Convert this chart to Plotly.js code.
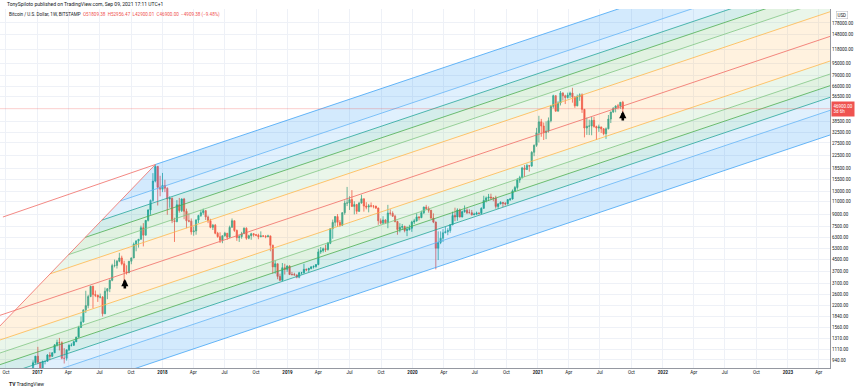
<!DOCTYPE html>
<html><head><meta charset="utf-8">
<script src="https://cdn.plot.ly/plotly-3.0.1.min.js"></script>
<style>html,body{margin:0;padding:0;background:#fff;}#chart{width:860px;height:391px;}</style>
</head><body><div id="chart"></div>
<script>
// ---- weekly BTCUSD (Bitstamp) candles, first week starting 2016-11-28 ----
const firstWeek = '2016-11-28';
const opens = [730,766,778,790,900,998,906,821,920,920,1015,995,1050,1190,1232,1230,965,965,1100,1180,1182,1250,1340,1560,1700,2050,2190,2520,2960,2600,2570,2500,2505,1930,2740,2850,3250,4080,4090,4370,4600,4200,3700,3650,4370,4600,5700,6000,6150,7350,6550,8250,9700,11250,15200,19100,13800,
13400,14200,13600,11500,11600,8200,8100,10500,9600,11500,9500,8200,8150,6900,7000,8300,8900,9300,9600,8700,8200,7400,7650,6750,6400,6050,6500,6750,6350,7400,8200,7050,6300,6400,6700,7300,6250,6500,6700,6600,6550,6400,6480,6450,6400,6480,5600,4000,4200,3450,3250,3950,3850,
4050,3550,3550,3530,3400,3650,3650,3850,3820,3900,4000,4020,4150,5050,5150,5300,5250,5780,7250,8000,8750,8000,7650,9300,10800,10800,11400,10250,10550,9500,10800,11550,10300,10150,10350,10300,10300,10000,8200,7900,8300,7950,9250,9200,8800,8100,7150,7400,7500,7050,7150,7300,
8050,8180,8700,8600,9300,10150,9900,9650,8550,8030,5350,5850,6250,6800,6900,7050,7700,8900,8700,9700,8700,9450,9650,9300,9300,9000,9080,9250,9200,9950,11250,11700,11850,11700,11650,10250,10650,10900,10750,10670,11400,11500,13050,13750,15450,16050,18650,18200,19350,19200,23800,26500,
32200,38200,35800,32300,33100,38900,48600,57400,45100,51200,59900,57300,55800,57900,59800,56200,49000,56600,58200,46400,34700,35700,35800,39100,35500,34700,35300,34250,31800,34300,39900,44600,47000,48900,48800,51809.38];
const highs = [772,778,795,935,1000,1153,910,930,925,1030,1062,1060,1200,1290,1325,1255,1130,1100,1200,1220,1270,1350,1600,1850,2050,2760,2590,2980,2980,2770,2600,2640,2540,2900,2800,3290,4200,4480,4450,4980,4760,4400,4100,4380,4620,5850,6000,6150,7600,7900,8250,9790,11400,17200,19666,19200,16500,
17250,15500,13800,12000,11800,8600,11300,11700,11600,11700,9900,9200,8500,7500,8400,9000,9700,9900,9600,8900,8450,7800,7800,6900,6850,6500,6900,6780,7600,8500,8200,7150,6600,6900,7400,7400,6600,6800,6750,6650,6700,6950,6550,6550,6600,6500,5650,4400,4200,3600,4250,4200,4100,
4100,3700,3650,3550,3700,3700,4200,3900,3950,4050,4100,4150,5300,5450,5400,5650,5900,7300,8350,8800,9100,8300,9350,11250,13880,12000,13200,11100,10650,11000,12300,11550,10950,10650,10900,10450,10350,10050,8500,8800,8400,10500,9800,9500,9000,8200,7900,7800,7600,7500,7700,8200,
8450,9200,8800,9600,10200,10500,10250,9700,9200,8100,6950,6950,7200,7450,7300,7750,9450,10050,9950,9900,9600,10400,9950,9800,9700,9300,9450,9300,10100,12100,11950,12450,12500,11800,12100,10800,11100,10980,10950,11500,11700,13350,14100,15950,16500,18950,19500,19900,19400,24200,26900,34800,
41950,40000,37800,38500,40900,49700,58300,57500,52600,61700,60500,58300,60200,61100,64900,57000,58400,59500,59500,46600,40800,39500,41300,41300,36000,36600,35400,34700,35000,42500,44700,48100,49300,50500,51900,52956.47];
const lows = [725,752,768,790,888,880,752,815,878,915,935,985,1050,1160,1090,950,890,930,1080,1160,1170,1240,1340,1550,1680,1950,2100,2500,2100,2500,2320,2450,1850,1920,2420,2700,3200,3970,3900,4300,4100,2970,3550,3650,4170,4580,5100,5400,6100,5500,6550,8100,9000,11000,14900,10400,12000,
12800,12800,9000,10050,7900,5900,8000,9300,9400,8400,7300,8000,6600,6500,6600,7900,8700,9000,8300,7900,7300,7100,6650,6300,5800,5780,6400,6100,6300,7400,6900,6000,5900,6200,6700,6100,6150,6100,6400,6450,6150,6350,6380,6250,6350,5100,3600,3600,3300,3200,3200,3550,3700,
3550,3500,3500,3350,3350,3550,3600,3750,3700,3850,3900,3950,4100,4900,5000,5050,5150,5700,6200,7500,7450,7450,7550,9000,10300,9700,10400,9050,9100,9400,10700,9450,9800,9350,10100,9950,9850,7700,7750,7800,7850,7300,8900,8700,8000,6600,6850,7100,6850,6450,7050,6900,
7800,8100,8250,8550,9100,9700,9300,8450,7900,3850,4450,5700,5900,6750,6550,6800,7650,8150,8200,8650,8650,9300,9100,9200,8900,8950,9050,9050,9150,9900,10900,11150,11300,11100,9900,9850,10600,10150,10400,10550,11150,11400,12950,13300,14800,15800,16200,18100,17600,19000,22400,25900,
27700,30300,28800,29200,32300,37900,47100,44900,45000,49300,53200,50400,54900,55400,51500,47500,48700,53000,43900,30000,31200,31100,31000,34900,28800,32700,32100,31000,29300,34000,37500,43800,44300,46400,46700,42900.01];
const closes = [766,778,790,900,998,906,821,920,920,1015,995,1050,1190,1232,1230,965,965,1100,1180,1182,1250,1340,1560,1700,2050,2190,2520,2960,2600,2570,2500,2505,1930,2740,2850,3250,4080,4090,4370,4600,4200,3700,3650,4370,4600,5700,6000,6150,7350,6550,8250,9700,11250,15200,19100,13800,13400,
14200,13600,11500,11600,8200,8100,10500,9600,11500,9500,8200,8150,6900,7000,8300,8900,9300,9600,8700,8200,7400,7650,6750,6400,6050,6500,6750,6350,7400,8200,7050,6300,6400,6700,7300,6250,6500,6700,6600,6550,6400,6480,6450,6400,6480,5600,4000,4200,3450,3250,3950,3850,4050,
3550,3550,3530,3400,3650,3650,3850,3820,3900,4000,4020,4150,5050,5150,5300,5250,5780,7250,8000,8750,8000,7650,9300,10800,10800,11400,10250,10550,9500,10800,11550,10300,10150,10350,10300,10300,10000,8200,7900,8300,7950,9250,9200,8800,8100,7150,7400,7500,7050,7150,7300,8050,
8180,8700,8600,9300,10150,9900,9650,8550,8030,5350,5850,6250,6800,6900,7050,7700,8900,8700,9700,8700,9450,9650,9300,9300,9000,9080,9250,9200,9950,11250,11700,11850,11700,11650,10250,10650,10900,10750,10670,11400,11500,13050,13750,15450,16050,18650,18200,19350,19200,23800,26500,32200,
38200,35800,32300,33100,38900,48600,57400,45100,51200,59900,57300,55800,57900,59800,56200,49000,56600,58200,46400,34700,35700,35800,39100,35500,34700,35300,34250,31800,34300,39900,44600,47000,48900,48800,51800,46900];

// ---- pitchfork anchors (handle P1, P2, P3) and its levels ----
const forkDates = ['2014-04-14', '2017-12-11', '2015-09-14'];
const forkPrices = [387, 19666, 211];
const forkLevels = [0.25, 0.382, 0.5, 0.618, 0.75, 1];
const forkLineColors = ['#ffb74d', '#81c784', '#4caf50', '#26a69a', '#64b5f6', '#42a5f5'];
const forkFillColors = ['rgba(255,167,38,0.15)', 'rgba(129,199,132,0.17)', 'rgba(76,175,80,0.17)', 'rgba(0,150,136,0.17)', 'rgba(100,181,246,0.2)', 'rgba(33,150,243,0.2)'];
const medianColor = '#f06b64';
// extra trend line ending at P2
const trendDates = ['2016-09-22', '2017-12-11'];
const trendPrices = [8690, 19666];
const lastPrice = 46900;
const arrowDates = ['2017-09-13', '2021-09-06'];
const arrowPrices = [3313, 45200];

// ---- axis ticks ----
const xTickVals = ['2016-10-01','2017-01-01','2017-04-01','2017-07-01','2017-10-01','2018-01-01','2018-04-01','2018-07-01','2018-10-01','2019-01-01','2019-04-01','2019-07-01','2019-10-01','2020-01-01','2020-04-01','2020-07-01','2020-10-01','2021-01-01','2021-04-01','2021-07-01','2021-10-01','2022-01-01','2022-04-01','2022-07-01','2022-10-01','2023-01-01','2023-04-01'];
const xTickText = ['Oct','<b>2017</b>','Apr','Jul','Oct','<b>2018</b>','Apr','Jul','Oct','<b>2019</b>','Apr','Jul','Oct','<b>2020</b>','Apr','Jul','Oct','<b>2021</b>','Apr','Jul','Oct','<b>2022</b>','Apr','Jul','Oct','<b>2023</b>','Apr'];
const yTickVals = [178000,148000,118000,95000,79000,66000,56500,38500,32500,27500,22500,18500,15500,13000,11000,9000,7500,6300,5300,4500,3700,3100,2600,2200,1840,1560,1310,1110,940];
const yTickText = yTickVals.map(v => v.toFixed(2));

// ---- helpers ----
const DAY = 86400000;
const toU = s => Date.parse(s.length > 10 ? s : s + 'T00:00:00Z') / DAY;
const toD = u => new Date(u * DAY).toISOString().slice(0, 19).replace('T', ' ');
const t0 = Date.parse(firstWeek + 'T00:00:00Z');
const dates = opens.map((_, i) => new Date(t0 + i * 7 * DAY).toISOString().slice(0, 10));

const P = forkDates.map((d, i) => [toU(d), Math.log10(forkPrices[i])]);
const M = [(P[1][0] + P[2][0]) / 2, (P[1][1] + P[2][1]) / 2];
const slope = (M[1] - P[0][1]) / (M[0] - P[0][0]);
const uEnd = toU('2024-06-01');
const endOf = s => [uEnd, s[1] + slope * (uEnd - s[0])];
const lvlPt = (k, Q) => [M[0] + k * (Q[0] - M[0]), M[1] + k * (Q[1] - M[1])];
const pts = arr => ({ x: arr.map(p => toD(p[0])), y: arr.map(p => Math.pow(10, p[1])) });

const traces = [];
// fills
[P[1], P[2]].forEach(Q => {
  let prev = M;
  forkLevels.forEach((k, i) => {
    const s = lvlPt(k, Q);
    const poly = pts([prev, s, endOf(s), endOf(prev), prev]);
    traces.push({ type: 'scatter', mode: 'lines', x: poly.x, y: poly.y, fill: 'toself', fillcolor: forkFillColors[i], line: { width: 0 }, hoverinfo: 'skip' });
    prev = s;
  });
});
// level lines
[P[1], P[2]].forEach(Q => {
  forkLevels.forEach((k, i) => {
    const s = lvlPt(k, Q);
    const l = pts([s, endOf(s)]);
    traces.push({ type: 'scatter', mode: 'lines', x: l.x, y: l.y, line: { width: 0.8, color: forkLineColors[i] }, hoverinfo: 'skip' });
  });
});
// median / handle, base line, trend line
const med = pts([P[0], endOf(M)]);
traces.push({ type: 'scatter', mode: 'lines', x: med.x, y: med.y, line: { width: 0.8, color: medianColor }, hoverinfo: 'skip' });
const base = pts([P[1], P[2]]);
traces.push({ type: 'scatter', mode: 'lines', x: base.x, y: base.y, line: { width: 0.8, color: medianColor }, hoverinfo: 'skip' });
traces.push({ type: 'scatter', mode: 'lines', x: trendDates, y: trendPrices, line: { width: 0.8, color: medianColor }, hoverinfo: 'skip' });
// last price line
traces.push({ type: 'scatter', mode: 'lines', x: ['2016-01-01', '2024-06-01'], y: [lastPrice, lastPrice], line: { width: 1, color: 'rgba(239,83,80,0.28)' }, hoverinfo: 'skip' });
// candles
traces.push({
  type: 'candlestick', x: dates, open: opens, high: highs, low: lows, close: closes,
  increasing: { line: { color: '#26a69a', width: 0.8 }, fillcolor: '#26a69a' },
  decreasing: { line: { color: '#ef5350', width: 0.8 }, fillcolor: '#ef5350' },
  whiskerwidth: 0, hoverinfo: 'skip'
});

const W = 830, TOP = 9, BOT = 368, H = BOT - TOP;
const px = x => x / W, py = y => (BOT - y) / H;
const font = 'Roboto, "Liberation Sans", Arial, sans-serif';
const annotations = [
  { xref: 'paper', yref: 'paper', x: px(5), y: py(4), xanchor: 'left', yanchor: 'middle', showarrow: false,
    text: 'TonySpiloto published on TradingView.com, Sep 09, 2021 17:11 UTC+1', font: { size: 5, color: '#131722', family: font } },
  { xref: 'paper', yref: 'paper', x: px(7), y: py(14), xanchor: 'left', yanchor: 'middle', showarrow: false,
    text: 'Bitcoin / U.S. Dollar, 1W, BITSTAMP  <span style="color:#ef5350">O51809.38  H52956.47  L42900.01  C46900.00  −4909.38 (−9.48%)</span>', font: { size: 4.6, color: '#131722', family: font } },
  { xref: 'paper', yref: 'paper', x: px(7), y: py(384), xanchor: 'left', yanchor: 'middle', showarrow: false,
    text: '<b>TV</b> TradingView', font: { size: 5, color: '#131722', family: font } },
  { xref: 'paper', yref: 'paper', x: px(842), y: py(15), xanchor: 'center', yanchor: 'middle', showarrow: false,
    text: 'USD', font: { size: 4.5, color: '#131722', family: font }, bordercolor: '#b2b5be', borderwidth: 0.5, borderpad: 1 },
  { xref: 'paper', yref: 'y', x: px(831), y: Math.log10(lastPrice), xanchor: 'left', yanchor: 'middle', showarrow: false,
    text: lastPrice.toFixed(2) + '<br>3d 6h', align: 'left', bgcolor: '#ef5350', borderpad: 1.5, font: { size: 4.5, color: '#ffffff', family: font } }
];
arrowDates.forEach((d, i) => {
  annotations.push({ xref: 'x', yref: 'y', x: d, y: Math.log10(arrowPrices[i]), showarrow: true, ax: 0, ay: 11, axref: 'pixel', ayref: 'pixel',
    arrowhead: 2, arrowsize: 0.55, arrowwidth: 2.6, arrowcolor: '#000000', text: '', standoff: 0 });
});

const layout = {
  width: 860, height: 391,
  margin: { l: 0, r: 30, t: TOP, b: 391 - BOT, pad: 0 },
  paper_bgcolor: '#ffffff', plot_bgcolor: '#ffffff', showlegend: false,
  font: { family: font, size: 4.5, color: '#131722' },
  xaxis: {
    type: 'date', range: ['2016-09-13 12:00', '2023-05-04'], tickmode: 'array', tickvals: xTickVals, ticktext: xTickText,
    tickfont: { size: 4.5, color: '#131722' }, showgrid: true, gridcolor: '#eef1f7', gridwidth: 1,
    showline: true, linecolor: '#9598a1', linewidth: 1, ticks: '', rangeslider: { visible: false }, zeroline: false, fixedrange: true
  },
  yaxis: {
    type: 'log', side: 'right', range: [2.9189, 5.3446], tickmode: 'array', tickvals: yTickVals, ticktext: yTickText,
    tickfont: { size: 4.5, color: '#131722' }, showgrid: true, gridcolor: '#eef1f7', gridwidth: 1,
    showline: true, linecolor: '#9598a1', linewidth: 1, ticks: '', zeroline: false, fixedrange: true
  },
  annotations: annotations
};
Plotly.newPlot('chart', traces, layout, { staticPlot: true, displayModeBar: false });
</script></body></html>
